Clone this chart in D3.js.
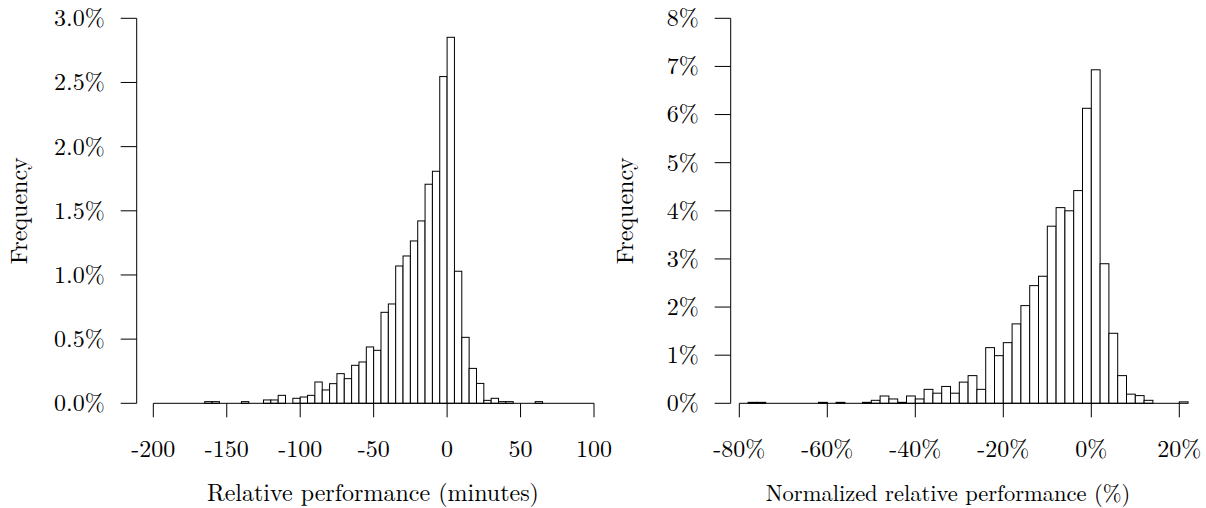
<!DOCTYPE html>
<html><head><meta charset="utf-8">
<script src="https://cdn.jsdelivr.net/npm/d3@7"></script>
<style>
html,body{margin:0;padding:0;background:#fff;}
svg{display:block;}
</style></head>
<body>
<script>
// ---------- data ----------
// Left: relative performance (minutes), 5-minute bins (lower edges)
const leftBins = [-165,-160,-155,-150,-145,-140,-135,-130,-125,-120,-115,-110,-105,-100,-95,-90,-85,-80,-75,-70,-65,-60,-55,-50,-45,-40,-35,-30,-25,-20,-15,-10,-5,0,5,10,15,20,25,30,35,40,45,50,55,60];
const leftFreq = [0.013,0.013,0,0,0,0.013,0,0,0.026,0.026,0.062,0,0.039,0.049,0.062,0.166,0.104,0.153,0.231,0.192,0.296,0.322,0.439,0.413,0.709,0.774,1.070,1.148,1.265,1.421,1.707,1.808,2.546,2.852,1.029,0.514,0.272,0.155,0.023,0.039,0.013,0.013,0,0,0,0.013];
const leftBinWidth = 5;
const leftXTicks = [-200,-150,-100,-50,0,50,100];
const leftXTickLabels = ["-200","-150","-100","-50","0","50","100"];
const leftYTicks = [0,0.5,1.0,1.5,2.0,2.5,3.0];
const leftYTickLabels = ["0.0%","0.5%","1.0%","1.5%","2.0%","2.5%","3.0%"];

// Right: normalized relative performance (%), 2-point bins (lower edges)
const rightBins = [-80,-78,-76,-74,-72,-70,-68,-66,-64,-62,-60,-58,-56,-54,-52,-50,-48,-46,-44,-42,-40,-38,-36,-34,-32,-30,-28,-26,-24,-22,-20,-18,-16,-14,-12,-10,-8,-6,-4,-2,0,2,4,6,8,10,12,14,16,18,20,22,24];
const rightFreq = [0,0.02,0.02,0,0,0,0,0,0,0.02,0,0.02,0,0,0.02,0.062,0.152,0.09,0.02,0.152,0.09,0.29,0.21,0.35,0.21,0.44,0.575,0.29,1.157,0.99,1.26,1.65,2.03,2.445,2.64,3.68,4.066,4.0,4.42,6.13,6.93,2.90,1.455,0.575,0.19,0.16,0.062,0,0,0,0.03,0,0];
const rightBinWidth = 2;
const rightXTicks = [-80,-60,-40,-20,0,20];
const rightXTickLabels = ["-80%","-60%","-40%","-20%","0%","20%"];
const rightYTicks = [0,1,2,3,4,5,6,7,8];
const rightYTickLabels = ["0%","1%","2%","3%","4%","5%","6%","7%","8%"];

const xTitles = ["Relative performance (minutes)", "Normalized relative performance (%)"];
const yTitle = "Frequency";

// ---------- drawing ----------
const W = 1206, H = 508;
const FONT = "'Latin Modern Roman', 'Liberation Serif', serif";
const svg = d3.select("body").append("svg").attr("width", W).attr("height", H);
svg.append("rect").attr("width", W).attr("height", H).attr("fill", "#fff");

const FS = 24;

function txt(sel, size) {
  return sel.append("text").style("font-family", FONT)
    .attr("font-size", size || FS).attr("fill", "#000");
}

function panel(cfg) {
  const g = svg.append("g");
  const x = d3.scaleLinear().domain(cfg.xDomain).range(cfg.xRange);
  const y = d3.scaleLinear().domain(cfg.yDomain).range([cfg.y0, cfg.y1]);

  // bars
  g.selectAll("rect.bar").data(cfg.bins.map((b, i) => ({b, v: cfg.freq[i]})))
    .enter().append("rect").attr("class", "bar")
    .attr("x", d => x(d.b))
    .attr("width", d => x(d.b + cfg.bw) - x(d.b))
    .attr("y", d => y(d.v))
    .attr("height", d => y(0) - y(d.v))
    .attr("fill", "#fff").attr("stroke", "#000").attr("stroke-width", 1);

  // x axis
  const xa = g.append("g");
  xa.append("line")
    .attr("x1", x(cfg.xTicks[0])).attr("x2", x(cfg.xTicks[cfg.xTicks.length - 1]))
    .attr("y1", y(0)).attr("y2", y(0)).attr("stroke", "#000");
  cfg.xTicks.forEach((t, i) => {
    xa.append("line").attr("x1", x(t)).attr("x2", x(t))
      .attr("y1", y(0)).attr("y2", y(0) + 14).attr("stroke", "#000");
    txt(xa).attr("x", x(t)).attr("y", 457)
      .attr("text-anchor", "middle").text(cfg.xLabels[i]);
  });

  // y axis
  const ya = g.append("g");
  const ax = cfg.yAxisX;
  ya.append("line").attr("x1", ax).attr("x2", ax)
    .attr("y1", y(cfg.yTicks[0])).attr("y2", y(cfg.yTicks[cfg.yTicks.length - 1])).attr("stroke", "#000");
  cfg.yTicks.forEach((t, i) => {
    ya.append("line").attr("x1", ax - 16).attr("x2", ax)
      .attr("y1", y(t)).attr("y2", y(t)).attr("stroke", "#000");
    txt(ya).attr("x", ax - 32).attr("y", y(t)).attr("dy", "0.33em")
      .attr("text-anchor", "end").text(cfg.yLabels[i]);
  });

  // titles
  txt(g, cfg.xTitleSize).attr("x", cfg.xTitleX).attr("y", 501)
    .attr("text-anchor", "middle")
    .text(cfg.xTitle);
  txt(g)
    .attr("transform", `translate(${cfg.yTitleX},${(cfg.y0 + cfg.y1) / 2}) rotate(-90)`)
    .attr("text-anchor", "middle")
    .text(yTitle);
}

panel({
  bins: leftBins, freq: leftFreq, bw: leftBinWidth,
  xDomain: [-200, 100], xRange: [153.3, 594],
  yDomain: [0, 3], y0: 403.3, y1: 18.3,
  xTicks: leftXTicks, xLabels: leftXTickLabels,
  yTicks: leftYTicks, yLabels: leftYTickLabels,
  yAxisX: 136.7,
  xTitle: xTitles[0], xTitleX: 373, xTitleSize: 24,
  yTitleX: 27
});

panel({
  bins: rightBins, freq: rightFreq, bw: rightBinWidth,
  xDomain: [-80, 20], xRange: [739.3, 1179.3],
  yDomain: [0, 8], y0: 403.3, y1: 18.3,
  xTicks: rightXTicks, xLabels: rightXTickLabels,
  yTicks: rightYTicks, yLabels: rightYTickLabels,
  yAxisX: 730.7,
  xTitle: xTitles[1], xTitleX: 948, xTitleSize: 22.5,
  yTitleX: 633
});
</script>
</body></html>
